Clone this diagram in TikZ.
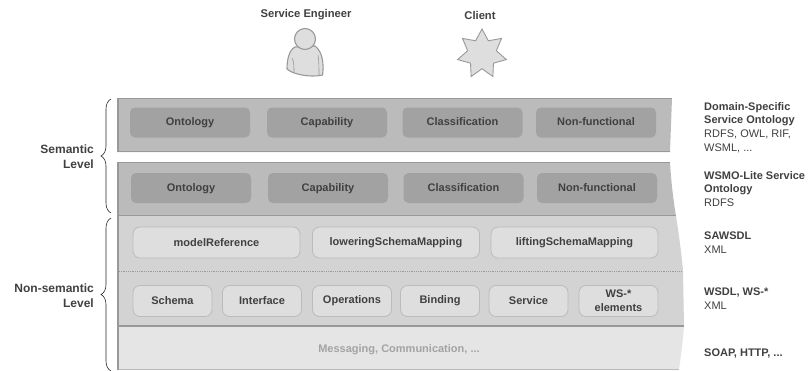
\documentclass[tikz,border=0pt]{standalone}
\usepackage{fontspec}
\setmainfont{Liberation Sans}
\usetikzlibrary{positioning,calc,decorations.pathreplacing,shapes.geometric}
\definecolor{darkband}{HTML}{BBBBBB}
\definecolor{darkedge}{HTML}{999999}
\definecolor{darkpill}{HTML}{A2A2A2}
\definecolor{midband}{HTML}{D3D3D3}
\definecolor{midpill}{HTML}{DEDEDE}
\definecolor{lightband}{HTML}{E5E5E5}
\definecolor{figfill}{HTML}{DEDEDE}
\definecolor{labeltext}{HTML}{404040}
\tikzset{darkbox/.style={fill=darkpill,rounded corners=5pt,minimum width=120pt,minimum height=30pt,inner sep=0pt,text=labeltext,text height=8pt,text depth=2pt,font=\fontsize{11}{13}\selectfont\bfseries},
         lightbox/.style={fill=midpill,draw=darkband,line width=0.8pt,rounded corners=7pt,minimum height=31pt,inner sep=0pt,text=labeltext,align=center,font=\fontsize{11}{14}\selectfont\bfseries},
         lvl/.style={text=labeltext,align=right,anchor=east,inner sep=0pt,font=\fontsize{12}{15}\selectfont\bfseries},
         note/.style={text=labeltext,align=left,anchor=north west,inner sep=0pt,font=\fontsize{11}{13.8}\selectfont},
         actor/.style={text=labeltext,font=\fontsize{11.2}{13}\selectfont\bfseries},
         brace/.style={draw=black!85,line width=0.6pt,decorate,decoration={brace,amplitude=10pt,mirror}}
}
\begin{document}
\begin{tikzpicture}[x=1pt,y=-1pt]
\useasboundingbox (0,0) rectangle (808,370);

% bands
\fill[darkband] (117,98) -- (672,98) -- (670,152) -- (117,152) -- cycle;
\fill[darkband] (117,162) -- (670,162) .. controls (671,180) and (673,198) .. (676,216) -- (117,216) -- cycle;
\fill[midband] (117,216) -- (676,216) .. controls (679,235) and (682,258) .. (683,271) -- (684,326) -- (117,326) -- cycle;
\fill[lightband] (117,326) -- (684,326) .. controls (683,340) and (681,355) .. (679,370) -- (117,370) -- cycle;
\draw[darkedge,line width=1.6pt] (118,151.5) -- (118,98.5) -- (672,98.5);
\draw[darkedge,line width=1.6pt] (117,151.5) -- (670,151.5);
\draw[darkedge,line width=1.6pt] (118,370) -- (118,162.5) -- (670,162.5);
\draw[darkedge,line width=1.4pt] (118,215.5) -- (676,215.5);
\draw[darkedge,line width=0.8pt,densely dotted] (119,271) -- (682,271);
\draw[darkedge,line width=1.4pt] (118,326) -- (684,326);
\draw[darkband,line width=0.8pt] (119,369.5) -- (679,369.5);

% top row
\node[darkbox] (onto) at (190,122.5) {Ontology};
\node[darkbox] (capa) at (327,122.5) {Capability};
\node[darkbox] (clas) at (462.5,122.5) {Classification};
\node[darkbox] (nonf) at (596,122.5) {Non-functional};

% second row
\node[darkbox] (ontob) at (191,188) {Ontology};
\node[darkbox] (capab) at (328,188) {Capability};
\node[darkbox] (clasb) at (463.5,188) {Classification};
\node[darkbox] (nonfb) at (597,188) {Non-functional};

% sawsdl row
\node[lightbox,minimum width=167pt] (modelref) at (216.5,242.5) {modelReference};
\node[lightbox,minimum width=167pt] (lowering) at (396,242.5) {loweringSchemaMapping};
\node[lightbox,minimum width=167pt] (lifting) at (574.5,242.5) {liftingSchemaMapping};

% wsdl row
\node[lightbox,minimum width=79pt] (schema) at (172.5,301) {Schema};
\node[lightbox,minimum width=79pt] (iface) at (262,301) {Interface};
\node[lightbox,minimum width=79pt] (opers) at (352,301) {Operations};
\node[lightbox,minimum width=79pt] (bind) at (440,301) {Binding};
\node[lightbox,minimum width=79pt] (serv) at (528.5,301) {Service};
\node[lightbox,minimum width=79pt] (wsel) at (618.5,301) {WS-*\\elements};

\node[text=darkedge!90!white,font=\fontsize{11}{13}\selectfont\bfseries] (msg) at (399,350) {Messaging, Communication, ...};

% levels
\coordinate (semtop) at (111,99);
\coordinate (sembot) at (111,213);
\coordinate (nontop) at (111,218);
\coordinate (nonbot) at (111,371);
\draw[brace] (semtop) -- (sembot);
\draw[brace] (nontop) -- (nonbot);
\node[lvl] (semlvl) at (94,156.5) {Semantic\\Level};
\node[lvl] (nonlvl) at (94,295.5) {Non-semantic\\Level};

% actors
\node[actor] (engineer) at (306,15) {Service Engineer};
\node[actor] (client) at (480,15) {Client};
\draw[darkedge,fill=figfill,line width=1.1pt] (295,47) .. controls (289,50) and (287,60) .. (287,69) .. controls (292,74) and (310,78) .. (322.5,75) .. controls (324,65) and (323,52) .. (315,46) -- cycle;
\draw[darkedge,line width=0.6pt] (292,58) .. controls (294,62) and (294,66) .. (294,72) (318,55) .. controls (319,62) and (319,68) .. (319,75);
\node[circle,draw=darkedge,fill=figfill,line width=1.1pt,minimum size=21pt,inner sep=0pt] (head) at (305,39) {};
\node[star,star points=7,star point ratio=1.7,draw=darkedge,fill=figfill,line width=0.9pt,minimum size=50pt,inner sep=0pt] (clientstar) at (482,54) {};

% notes
\node[note] (dsso) at (704,102) {\textbf{Domain-Specific}\\\textbf{Service Ontology}\\RDFS, OWL, RIF,\\WSML, ...};
\node[note] (wsmo) at (704,171) {\textbf{WSMO-Lite Service}\\\textbf{Ontology}\\RDFS};
\node[note] (saw) at (704,232) {\textbf{SAWSDL}\\XML};
\node[note] (wsdl) at (704,287.5) {\textbf{WSDL, WS-*}\\XML};
\node[note] (soap) at (704,348.5) {\textbf{SOAP, HTTP, ...}};

\end{tikzpicture}
\end{document}
